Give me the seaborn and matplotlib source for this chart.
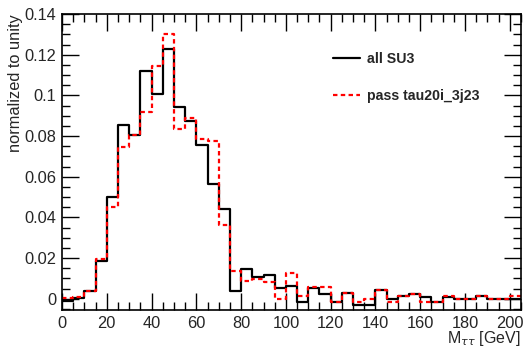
import numpy as np
import pandas as pd
import matplotlib
matplotlib.use("Agg")
import matplotlib.pyplot as plt
import seaborn as sns
from matplotlib.ticker import MultipleLocator, FuncFormatter

# bin edges of the M_tautau histogram (5 GeV bins, 0-205 GeV)
bin_edges = list(range(0, 210, 5))
bin_centers = [e + 2.5 for e in bin_edges[:-1]]

# normalized bin contents
all_su3 = [-0.001, 0.0006, 0.004, 0.0188, 0.0499, 0.0852, 0.0805, 0.1121,
           0.1008, 0.1229, 0.0945, 0.0875, 0.0756, 0.0566, 0.0443, 0.004,
           0.0148, 0.0108, 0.0119, 0.0052, 0.0065, -0.0017, 0.0055, 0.0024,
           -0.0017, 0.0028, -0.0029, -0.0029, 0.0041, -0.0002, 0.0014, 0.0026,
           0.0011, -0.0014, 0.0011, -0.0002, -0.0002, 0.0014, -0.0002, -0.0002,
           -0.0002]
pass_trig = [0.0004, 0.0008, 0.004, 0.0195, 0.0452, 0.0748, 0.0807, 0.0916,
             0.1146, 0.1304, 0.0836, 0.0891, 0.0788, 0.0778, 0.0364, 0.0139,
             0.0087, 0.0097, 0.0085, -0.0002, 0.0126, 0.0014, 0.0057, 0.0057,
             -0.0017, 0.0028, -0.0017, -0.0002, 0.0041, -0.0017, 0.0014, 0.0026,
             -0.0017, -0.0017, 0.0014, -0.0002, -0.0002, 0.0014, -0.0002, -0.0002,
             0.0014]
labels = ["all SU3", "pass tau20i_3j23"]

df = pd.DataFrame({"mtautau": bin_centers, "all": all_su3, "pass": pass_trig})

sns.set_style("ticks")
plt.rcParams["font.family"] = ["Liberation Sans", "DejaVu Sans"]

fig = plt.figure(figsize=(5.24, 3.49), dpi=100)
ax = fig.add_axes([0.1183, 0.1117, 0.8760, 0.8482])

sns.histplot(data=df, x="mtautau", weights="all", bins=bin_edges, element="step",
             fill=False, color="black", linewidth=1.6, ax=ax)
sns.histplot(data=df, x="mtautau", weights="pass", bins=bin_edges, element="step",
             fill=False, color="#ff0000", linewidth=1.6,
             linestyle=(0, (2.0, 1.5)), ax=ax)

ax.set_xlim(0, 205)
ax.set_ylim(-0.0055, 0.14)

ax.xaxis.set_major_locator(MultipleLocator(20))
ax.xaxis.set_minor_locator(MultipleLocator(5))
ax.yaxis.set_major_locator(MultipleLocator(0.02))
ax.yaxis.set_minor_locator(MultipleLocator(0.005))
ax.yaxis.set_major_formatter(FuncFormatter(lambda v, p: "%g" % round(v, 3)))

ax.tick_params(which="both", direction="in", top=True, right=True,
               labelsize=11.8, width=1, color="black")
ax.tick_params(which="major", length=12, pad=4)
ax.tick_params(which="minor", length=6)
for s in ax.spines.values():
    s.set_linewidth(1.2)
    s.set_color("black")

ax.set_xlabel(r"M$_{\tau\tau}$ [GeV]", fontsize=11.5, loc="right", labelpad=-1)
ax.set_ylabel("normalized to unity", fontsize=11.8, loc="top", labelpad=1)

ax.legend(handles=ax.lines[:2], labels=labels, loc="upper left",
          bbox_to_anchor=(0.5904, 0.871), frameon=False, borderpad=0,
          borderaxespad=0, handlelength=1.9, handletextpad=0.5,
          labelspacing=1.64, prop={"weight": "bold", "size": 10.2})

fig.savefig("out.png", dpi=100)
